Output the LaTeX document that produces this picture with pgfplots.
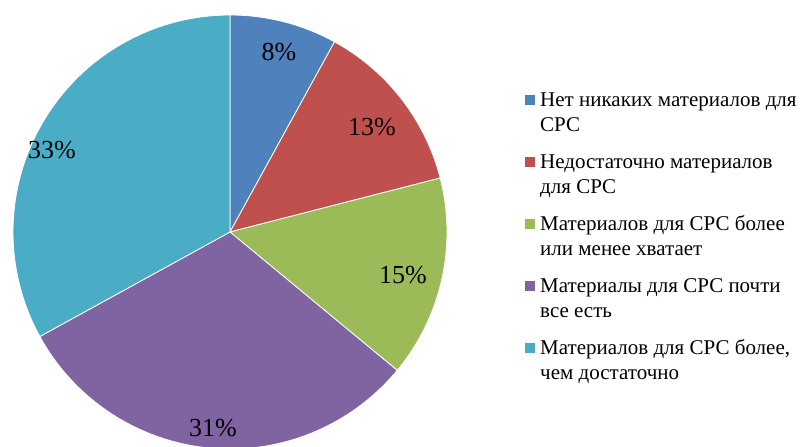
\documentclass[border=0pt]{standalone}
\usepackage{fontspec}
\setmainfont{Liberation Serif}
\usepackage{pgfplots}
\pgfplotsset{compat=1.18}

\definecolor{c1}{HTML}{4F81BD}
\definecolor{c2}{HTML}{C0504D}
\definecolor{c3}{HTML}{9BBB59}
\definecolor{c4}{HTML}{8064A2}
\definecolor{c5}{HTML}{4BACC6}

% one legend entry: colour, baseline of first line, line 1, line 2
\newcommand{\legentry}[4]{%
  \fill[#1] (axis cs:525,#2+2) rectangle (axis cs:535,#2+12);
  \node[anchor=base west, inner sep=0pt, font=\fontsize{21}{25}\selectfont] at (axis cs:540,#2) {#3};
  \node[anchor=base west, inner sep=0pt, font=\fontsize{21}{25}\selectfont] at (axis cs:540,#2-25) {#4};
}

\begin{document}
\begin{tikzpicture}
\useasboundingbox (0,0) rectangle (801pt,447pt);
\begin{axis}[
  x=1pt, y=1pt,
  xmin=0, xmax=801, ymin=0, ymax=447,
  hide axis, clip=true,
]
% shares: 8, 13, 15, 31, 33 % clockwise from 12 o'clock
\addplot[fill=c1, draw=white, line width=0.8pt, domain=61.2:90, samples=40]
  ({230+217*cos(x)},{215+217*sin(x)}) -- (axis cs:230,215) -- cycle;
\addplot[fill=c2, draw=white, line width=0.8pt, domain=14.4:61.2, samples=50]
  ({230+217*cos(x)},{215+217*sin(x)}) -- (axis cs:230,215) -- cycle;
\addplot[fill=c3, draw=white, line width=0.8pt, domain=-39.6:14.4, samples=50]
  ({230+217*cos(x)},{215+217*sin(x)}) -- (axis cs:230,215) -- cycle;
\addplot[fill=c4, draw=white, line width=0.8pt, domain=-151.2:-39.6, samples=90]
  ({230+217*cos(x)},{215+217*sin(x)}) -- (axis cs:230,215) -- cycle;
\addplot[fill=c5, draw=white, line width=0.8pt, domain=-270:-151.2, samples=90]
  ({230+217*cos(x)},{215+217*sin(x)}) -- (axis cs:230,215) -- cycle;

\begin{scope}[every node/.style={font=\fontsize{26}{30}\selectfont}]
\node at (axis cs:279,395) {8\%};
\node at (axis cs:372,320) {13\%};
\node at (axis cs:403,172) {15\%};
\node at (axis cs:213,19) {31\%};
\node at (axis cs:52,297) {33\%};
\end{scope}

\legentry{c1}{340}{Нет никаких материалов для}{СРС}
\legentry{c2}{278}{Недостаточно материалов}{для СРС}
\legentry{c3}{216}{Материалов для СРС более}{или менее хватает}
\legentry{c4}{154}{Материалы для СРС почти}{все есть}
\legentry{c5}{92}{Материалов для СРС более,}{чем достаточно}
\end{axis}
\end{tikzpicture}
\end{document}
